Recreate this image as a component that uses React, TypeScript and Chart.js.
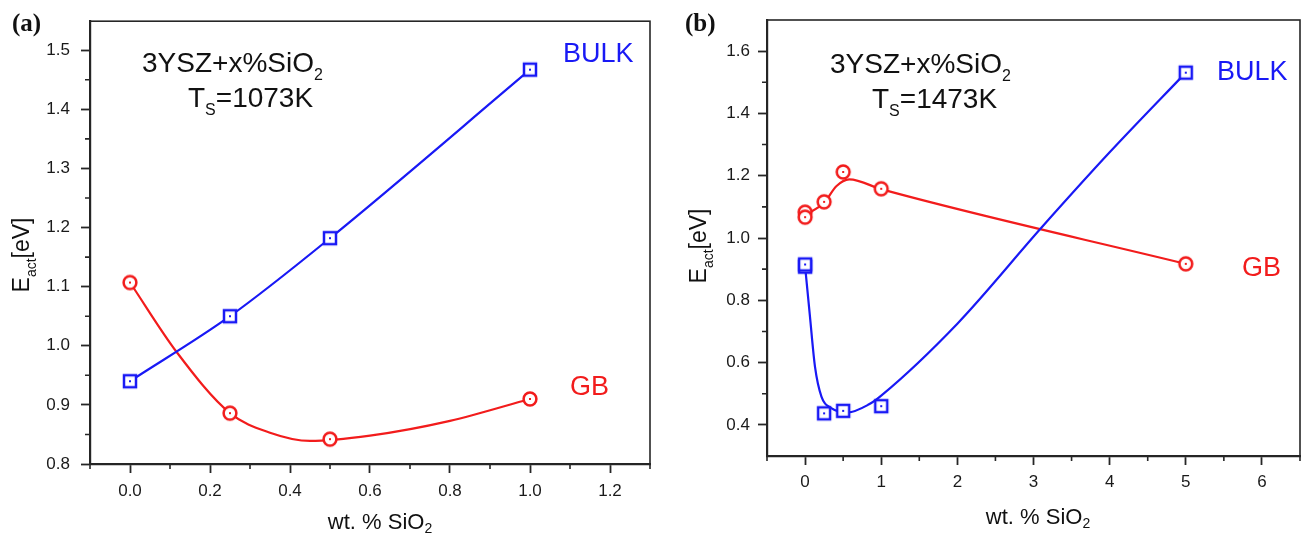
import React, { useEffect, useRef } from 'react';
import { Chart, registerables } from 'chart.js';
Chart.register(...registerables);

const BLUE = 'rgb(25,25,245)';
const RED = 'rgb(242,28,28)';
const AXIS = '#262626';
const SANS = "'Liberation Sans', Arial, sans-serif";
const SERIF = "'Liberation Serif', 'Times New Roman', serif";

// ---------- Panel (a): Ts = 1073 K ----------
const A_X = [0, 0.25, 0.5, 1.0];
const A_BULK = [0.94, 1.05, 1.182, 1.467];
const A_GB = [1.107, 0.886, 0.842, 0.91];
// smooth fitted GB curve
const A_GB_FIT_X = [0, 0.117, 0.25, 0.35, 0.45, 0.6, 0.8, 1.0];
const A_GB_FIT_Y = [1.107, 0.989, 0.886, 0.853, 0.839, 0.848, 0.873, 0.91];
const A_X_TICKS = [0, 0.2, 0.4, 0.6, 0.8, 1.0, 1.2];
const A_X_MINOR = [-0.1, 0.1, 0.3, 0.5, 0.7, 0.9, 1.1, 1.3];
const A_Y_TICKS = [0.8, 0.9, 1.0, 1.1, 1.2, 1.3, 1.4, 1.5];
const A_Y_MINOR = [0.85, 0.95, 1.05, 1.15, 1.25, 1.35, 1.45];

// ---------- Panel (b): Ts = 1473 K ----------
const B_X = [0, 0, 0.25, 0.5, 1.0, 5.0];
const B_BULK = [0.908, 0.915, 0.437, 0.445, 0.46, 1.531];
const B_GB = [1.083, 1.067, 1.116, 1.212, 1.158, 0.917];
// fitted curves
const B_BULK_FIT_X = [0, 0.064, 0.13, 0.215, 0.344, 0.56, 0.84, 1.0, 2.0, 3.1, 4.0, 5.0];
const B_BULK_FIT_Y = [0.91, 0.748, 0.587, 0.491, 0.454, 0.44, 0.466, 0.494, 0.725, 1.032, 1.275, 1.531];
const B_GB_FIT_X = [0, 0.25, 0.41, 0.58, 1.01, 5.0];
const B_GB_FIT_Y = [1.074, 1.113, 1.166, 1.188, 1.156, 0.917];
const B_X_TICKS = [0, 1, 2, 3, 4, 5, 6];
const B_X_MINOR = [-0.5, 0.5, 1.5, 2.5, 3.5, 4.5, 5.5, 6.5];
const B_Y_TICKS = [0.4, 0.6, 0.8, 1.0, 1.2, 1.4, 1.6];
const B_Y_MINOR = [0.5, 0.7, 0.9, 1.1, 1.3, 1.5];

type Seg = { t: string; sub?: boolean };
type TextItem = {
  x: number; y: number; segs: Seg[]; size: number; color: string;
  align?: 'left' | 'center'; rotate?: boolean; bold?: boolean; family?: string;
  subScale?: number; subDrop?: number;
};

function makeMarker(kind: 'square' | 'circle', color: string): HTMLCanvasElement {
  const c = document.createElement('canvas');
  c.width = 18; c.height = 18;
  const g = c.getContext('2d')!;
  g.lineWidth = 2.5;
  g.strokeStyle = color;
  g.fillStyle = '#fff';
  if (kind === 'square') {
    g.fillRect(3, 3, 12, 12);
    g.strokeRect(3, 3, 12, 12);
  } else {
    g.beginPath();
    g.arc(9, 9, 6.4, 0, Math.PI * 2);
    g.fill();
    g.stroke();
  }
  g.fillStyle = color;
  g.fillRect(8, 8, 2, 2);
  return c;
}

function pts(xs: number[], ys: number[]) {
  return xs.map((x, i) => ({ x, y: ys[i] }));
}

function drawRich(ctx: CanvasRenderingContext2D, it: TextItem) {
  const subSize = Math.round(it.size * (it.subScale || 0.58));
  const drop = it.subDrop ?? 0.3;
  const fam = it.family || SANS;
  const fontFor = (s: Seg) => `${it.bold ? 'bold ' : ''}${s.sub ? subSize : it.size}px ${fam}`;
  let total = 0;
  const widths = it.segs.map((s) => {
    ctx.font = fontFor(s);
    const w = ctx.measureText(s.t).width;
    total += w;
    return w;
  });
  ctx.save();
  ctx.fillStyle = it.color;
  ctx.textBaseline = 'alphabetic';
  ctx.textAlign = 'left';
  ctx.translate(it.x, it.y);
  if (it.rotate) ctx.rotate(-Math.PI / 2);
  let cx = it.align === 'center' ? -total / 2 : 0;
  const baseOff = it.align === 'center' ? it.size * 0.36 : 0;
  it.segs.forEach((s, i) => {
    ctx.font = fontFor(s);
    ctx.fillText(s.t, cx, baseOff + (s.sub ? it.size * drop : 0));
    cx += widths[i];
  });
  ctx.restore();
}

type Spec = {
  width: number; height: number;
  pad: { top: number; right: number };
  yAxisW: number; xAxisH: number;
  xMin: number; xMax: number; yMin: number; yMax: number;
  xTicks: number[]; xMinor: number[]; yTicks: number[]; yMinor: number[];
  xDec: number; yDec: number;
  xPad: number; yPad: number;
  datasets: any[];
  texts: TextItem[];
};

function makeConfig(spec: Spec): any {
  const decor = {
    id: 'decor',
    afterDraw(chart: any) {
      const { ctx, chartArea: a } = chart;
      const xs = chart.scales.x;
      const ys = chart.scales.y;
      ctx.save();
      ctx.strokeStyle = AXIS;
      ctx.lineWidth = 1.6;
      ctx.strokeRect(a.left, a.top, a.right - a.left, a.bottom - a.top);
      ctx.lineWidth = 1.6;
      ctx.beginPath();
      spec.xMinor.forEach((v) => {
        const p = xs.getPixelForValue(v);
        ctx.moveTo(p, a.bottom);
        ctx.lineTo(p, a.bottom + 5);
      });
      spec.yMinor.forEach((v) => {
        const p = ys.getPixelForValue(v);
        ctx.moveTo(a.left, p);
        ctx.lineTo(a.left - 5, p);
      });
      ctx.stroke();
      ctx.restore();
      spec.texts.forEach((t) => drawRich(ctx, t));
    },
  };
  const tickFont = { family: SANS, size: 17 };
  return {
    type: 'line',
    data: { datasets: spec.datasets },
    options: {
      animation: false,
      responsive: false,
      maintainAspectRatio: false,
      events: [],
      layout: { padding: { left: 0, top: spec.pad.top, right: spec.pad.right, bottom: 0 } },
      plugins: { legend: { display: false }, tooltip: { enabled: false }, title: { display: false } },
      scales: {
        x: {
          type: 'linear',
          min: spec.xMin,
          max: spec.xMax,
          afterFit: (s: any) => { s.height = spec.xAxisH; },
          afterBuildTicks: (s: any) => { s.ticks = spec.xTicks.map((v) => ({ value: v })); },
          ticks: {
            callback: (v: number) => Number(v).toFixed(spec.xDec),
            font: tickFont, color: '#1a1a1a', padding: spec.xPad,
            maxRotation: 0, autoSkip: false,
          },
          grid: { drawOnChartArea: false, drawTicks: true, tickLength: 9, tickWidth: 1.8, tickColor: AXIS },
          border: { display: true, color: AXIS, width: 2.2 },
        },
        y: {
          type: 'linear',
          min: spec.yMin,
          max: spec.yMax,
          afterFit: (s: any) => { s.width = spec.yAxisW; },
          afterBuildTicks: (s: any) => { s.ticks = spec.yTicks.map((v) => ({ value: v })); },
          ticks: {
            callback: (v: number) => Number(v).toFixed(spec.yDec),
            font: tickFont, color: '#1a1a1a', padding: spec.yPad, autoSkip: false,
          },
          grid: { drawOnChartArea: false, drawTicks: true, tickLength: 9, tickWidth: 1.8, tickColor: AXIS },
          border: { display: true, color: AXIS, width: 2.2 },
        },
      },
    },
    plugins: [decor],
  };
}

function curve(data: any[], color: string, mode: string = 'monotone') {
  return {
    data, borderColor: color, borderWidth: 2.2, pointRadius: 0, showLine: true,
    fill: false, cubicInterpolationMode: mode, order: 2,
  };
}

function markers(data: any[], style: HTMLCanvasElement) {
  return {
    data, showLine: false, pointStyle: style, pointRadius: 9, order: 0,
    borderColor: 'transparent', backgroundColor: 'transparent',
  };
}

const YTITLE: Seg[] = [{ t: 'E' }, { t: 'act', sub: true }, { t: '[eV]' }];
const XTITLE: Seg[] = [{ t: 'wt. % SiO' }, { t: '2', sub: true }];

function buildA(): Spec {
  const sq = makeMarker('square', BLUE);
  const ci = makeMarker('circle', RED);
  return {
    width: 660, height: 535,
    pad: { top: 10, right: 9 },
    yAxisW: 90, xAxisH: 71,
    xMin: -0.1, xMax: 1.3, yMin: 0.8, yMax: 1.549,
    xTicks: A_X_TICKS, xMinor: A_X_MINOR, yTicks: A_Y_TICKS, yMinor: A_Y_MINOR,
    xDec: 1, yDec: 1, xPad: 8, yPad: 11,
    datasets: [
      curve(pts(A_X, A_BULK), BLUE),
      curve(pts(A_GB_FIT_X, A_GB_FIT_Y), RED),
      markers(pts(A_X, A_BULK), sq),
      markers(pts(A_X, A_GB), ci),
    ],
    texts: [
      { x: 12, y: 31, segs: [{ t: '(a)' }], size: 25, color: '#111', bold: true, family: SERIF },
      { x: 142, y: 72, segs: [{ t: '3YSZ+x%SiO' }, { t: '2', sub: true }], size: 28, color: '#111' },
      { x: 188, y: 107, segs: [{ t: 'T' }, { t: 'S', sub: true }, { t: '=1073K' }], size: 28, color: '#111' },
      { x: 563, y: 62, segs: [{ t: 'BULK' }], size: 27, color: BLUE },
      { x: 570, y: 395, segs: [{ t: 'GB' }], size: 27, color: RED },
      { x: 21, y: 255, segs: YTITLE, size: 23, color: '#111', align: 'center', rotate: true, subScale: 0.62, subDrop: 0.28 },
      { x: 380, y: 521, segs: XTITLE, size: 22, color: '#111', align: 'center', subScale: 0.62, subDrop: 0.2 },
    ],
  };
}

function buildB(): Spec {
  const sq = makeMarker('square', BLUE);
  const ci = makeMarker('circle', RED);
  return {
    width: 650, height: 535,
    pad: { top: 20, right: 1.5 },
    yAxisW: 107, xAxisH: 79,
    xMin: -0.5, xMax: 6.5, yMin: 0.3, yMax: 1.7,
    xTicks: B_X_TICKS, xMinor: B_X_MINOR, yTicks: B_Y_TICKS, yMinor: B_Y_MINOR,
    xDec: 0, yDec: 1, xPad: 7, yPad: 8,
    datasets: [
      curve(pts(B_BULK_FIT_X, B_BULK_FIT_Y), BLUE),
      curve(pts(B_GB_FIT_X, B_GB_FIT_Y), RED),
      markers(pts(B_X, B_BULK), sq),
      markers(pts(B_X, B_GB), ci),
    ],
    texts: [
      { x: 25, y: 31, segs: [{ t: '(b)' }], size: 25, color: '#111', bold: true, family: SERIF },
      { x: 170, y: 73, segs: [{ t: '3YSZ+x%SiO' }, { t: '2', sub: true }], size: 28, color: '#111' },
      { x: 212, y: 108, segs: [{ t: 'T' }, { t: 'S', sub: true }, { t: '=1473K' }], size: 28, color: '#111' },
      { x: 557, y: 80, segs: [{ t: 'BULK' }], size: 27, color: BLUE },
      { x: 582, y: 276, segs: [{ t: 'GB' }], size: 27, color: RED },
      { x: 38, y: 246, segs: YTITLE, size: 23, color: '#111', align: 'center', rotate: true, subScale: 0.62, subDrop: 0.28 },
      { x: 378, y: 516, segs: XTITLE, size: 22, color: '#111', align: 'center', subScale: 0.62, subDrop: 0.2 },
    ],
  };
}

function Panel({ left, build }: { left: number; build: () => Spec }) {
  const ref = useRef<HTMLCanvasElement>(null);
  const spec = build();
  useEffect(() => {
    if (!ref.current) return;
    const chart = new Chart(ref.current, makeConfig(build()));
    return () => chart.destroy();
  }, []);
  return (
    <canvas
      ref={ref}
      width={spec.width}
      height={spec.height}
      style={{ position: 'absolute', left, top: 0, width: spec.width, height: spec.height }}
    />
  );
}

export default function App() {
  return (
    <div style={{ position: 'absolute', left: 0, top: 0, width: 1310, height: 535, background: '#fff', overflow: 'hidden' }}>
      <Panel left={0} build={buildA} />
      <Panel left={660} build={buildB} />
    </div>
  );
}
